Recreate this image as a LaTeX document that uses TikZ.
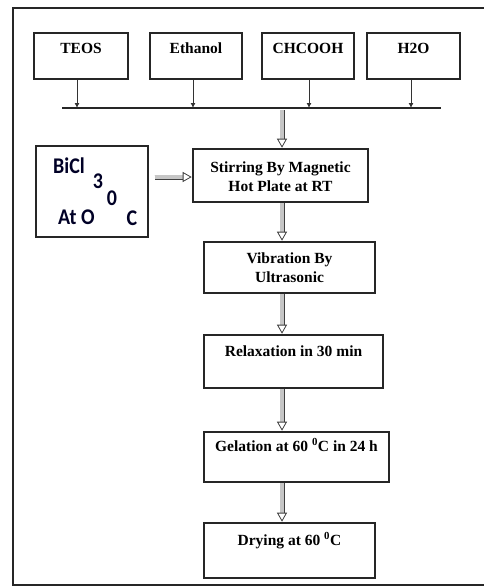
\documentclass[tikz,border=0pt]{standalone}
\usepackage{fontspec}
\setmainfont{Liberation Serif}
\newfontfamily\carfont{Carlito}
\usetikzlibrary{arrows.meta}
\tikzset{
  mainbox/.style={draw=black!85, line width=2.6pt, fill=white, inner sep=0pt},
  topbox/.style={mainbox, minimum width=93pt, minimum height=46pt},
  txt/.style={anchor=base, inner sep=0pt, font=\fontsize{15.5pt}{19pt}\selectfont\bfseries},
  btxt/.style={anchor=base, inner sep=0pt, font=\fontsize{20pt}{24pt}\carfont\bfseries, text=black!85!blue, yscale=1.12},
  thin arrow/.style={draw=black!80, line width=0.9pt, -{Latex[length=5pt,width=5pt]}},
  dbl/.style={draw=black!75, line width=0.8pt, double=gray!45, double distance=3.4pt,
    -{Triangle[open, length=9pt, width=10pt]}},
}
\begin{document}
\begin{tikzpicture}[x=1pt, y=-1pt]
\useasboundingbox (0,0) rectangle (484,586);
\clip (0,0) rectangle (484,586);
\fill[white] (0,0) rectangle (484,586);
% outer frame
\draw[line width=2pt, black!85] (490,8) -- (13,8) -- (13,585) -- (490,585);

% top boxes
\node[topbox, minimum width=94pt] (teos) at (81,56) {};
\node[topbox, minimum width=92pt] (eth) at (196,56) {};
\node[topbox, minimum width=92pt] (chc) at (308,56) {};
\node[topbox, minimum width=93pt] (h2o) at (413.5,56) {};
\node[txt] (tteos) at (81,54) {TEOS};
\node[txt] (teth) at (196,54) {Ethanol};
\node[txt] (tchc) at (308,54) {CHCOOH};
\node[txt] (th2o) at (413.5,54) {H2O};

% bus line
\coordinate (busL) at (62,108);
\coordinate (busR) at (441,108);
\draw[line width=1.6pt, black!85] (busL) -- (busR);
\coordinate (a1) at (77,108);
\coordinate (a2) at (193,108);
\coordinate (a3) at (309,108);
\coordinate (a4) at (411,108);
\draw[thin arrow] (a1 |- teos.south) -- (a1);
\draw[thin arrow] (a2 |- eth.south) -- (a2);
\draw[thin arrow] (a3 |- chc.south) -- (a3);
\draw[thin arrow] (a4 |- h2o.south) -- (a4);

% main column
\node[mainbox, minimum width=175pt, minimum height=53pt] (stir) at (280.5,175.5) {};
\node[txt] (tstir1) at (280.5,172) {Stirring By Magnetic};
\node[txt] (tstir2) at (280.5,191) {Hot Plate at RT};

\node[mainbox, minimum width=171pt, minimum height=51pt] (vib) at (289.5,267.5) {};
\node[txt] (tvib1) at (289.5,263) {Vibration By};
\node[txt] (tvib2) at (289.5,282) {Ultrasonic};

\node[mainbox, minimum width=179pt, minimum height=53pt] (rel) at (293.5,361.5) {};
\node[txt] (trel) at (293.5,356) {Relaxation in 30 min};

\node[mainbox, minimum width=185pt, minimum height=50pt] (gel) at (296.5,457) {};
\node[txt] (tgel) at (296.5,451) {Gelation at 60 \textsuperscript{0}C in 24 h};

\node[mainbox, minimum width=171pt, minimum height=55pt] (dry) at (289.5,550.5) {};
\node[txt] (tdry) at (289.5,545) {Drying at 60 \textsuperscript{0}C};

% BiCl box
\node[draw=black!85, line width=1.3pt, minimum width=112pt, minimum height=91pt, inner sep=0pt] (bicl) at (92,191.5) {};
\node[btxt, anchor=base west] (tb1) at (53,173) {BiCl};
\node[btxt] (tb2) at (98,188) {3};
\node[btxt] (tb3) at (112,205) {0};
\node[btxt, anchor=base west] (tb4) at (58,224) {At O};
\node[btxt] (tb5) at (132,225) {C};

% double arrows
\coordinate (ax) at (282,108);
\coordinate (hy) at (0,177);
\draw[dbl] (ax) ++(0,2) -- (ax |- stir.north);
\draw[dbl] (ax |- stir.south) -- (ax |- vib.north);
\draw[dbl] (ax |- vib.south) -- (ax |- rel.north);
\draw[dbl] (ax |- rel.south) -- (ax |- gel.north);
\draw[dbl] (ax |- gel.south) -- (ax |- dry.north);
\draw[dbl, shorten <=6pt] (bicl.east |- hy) -- (stir.west |- hy);
\end{tikzpicture}
\end{document}
